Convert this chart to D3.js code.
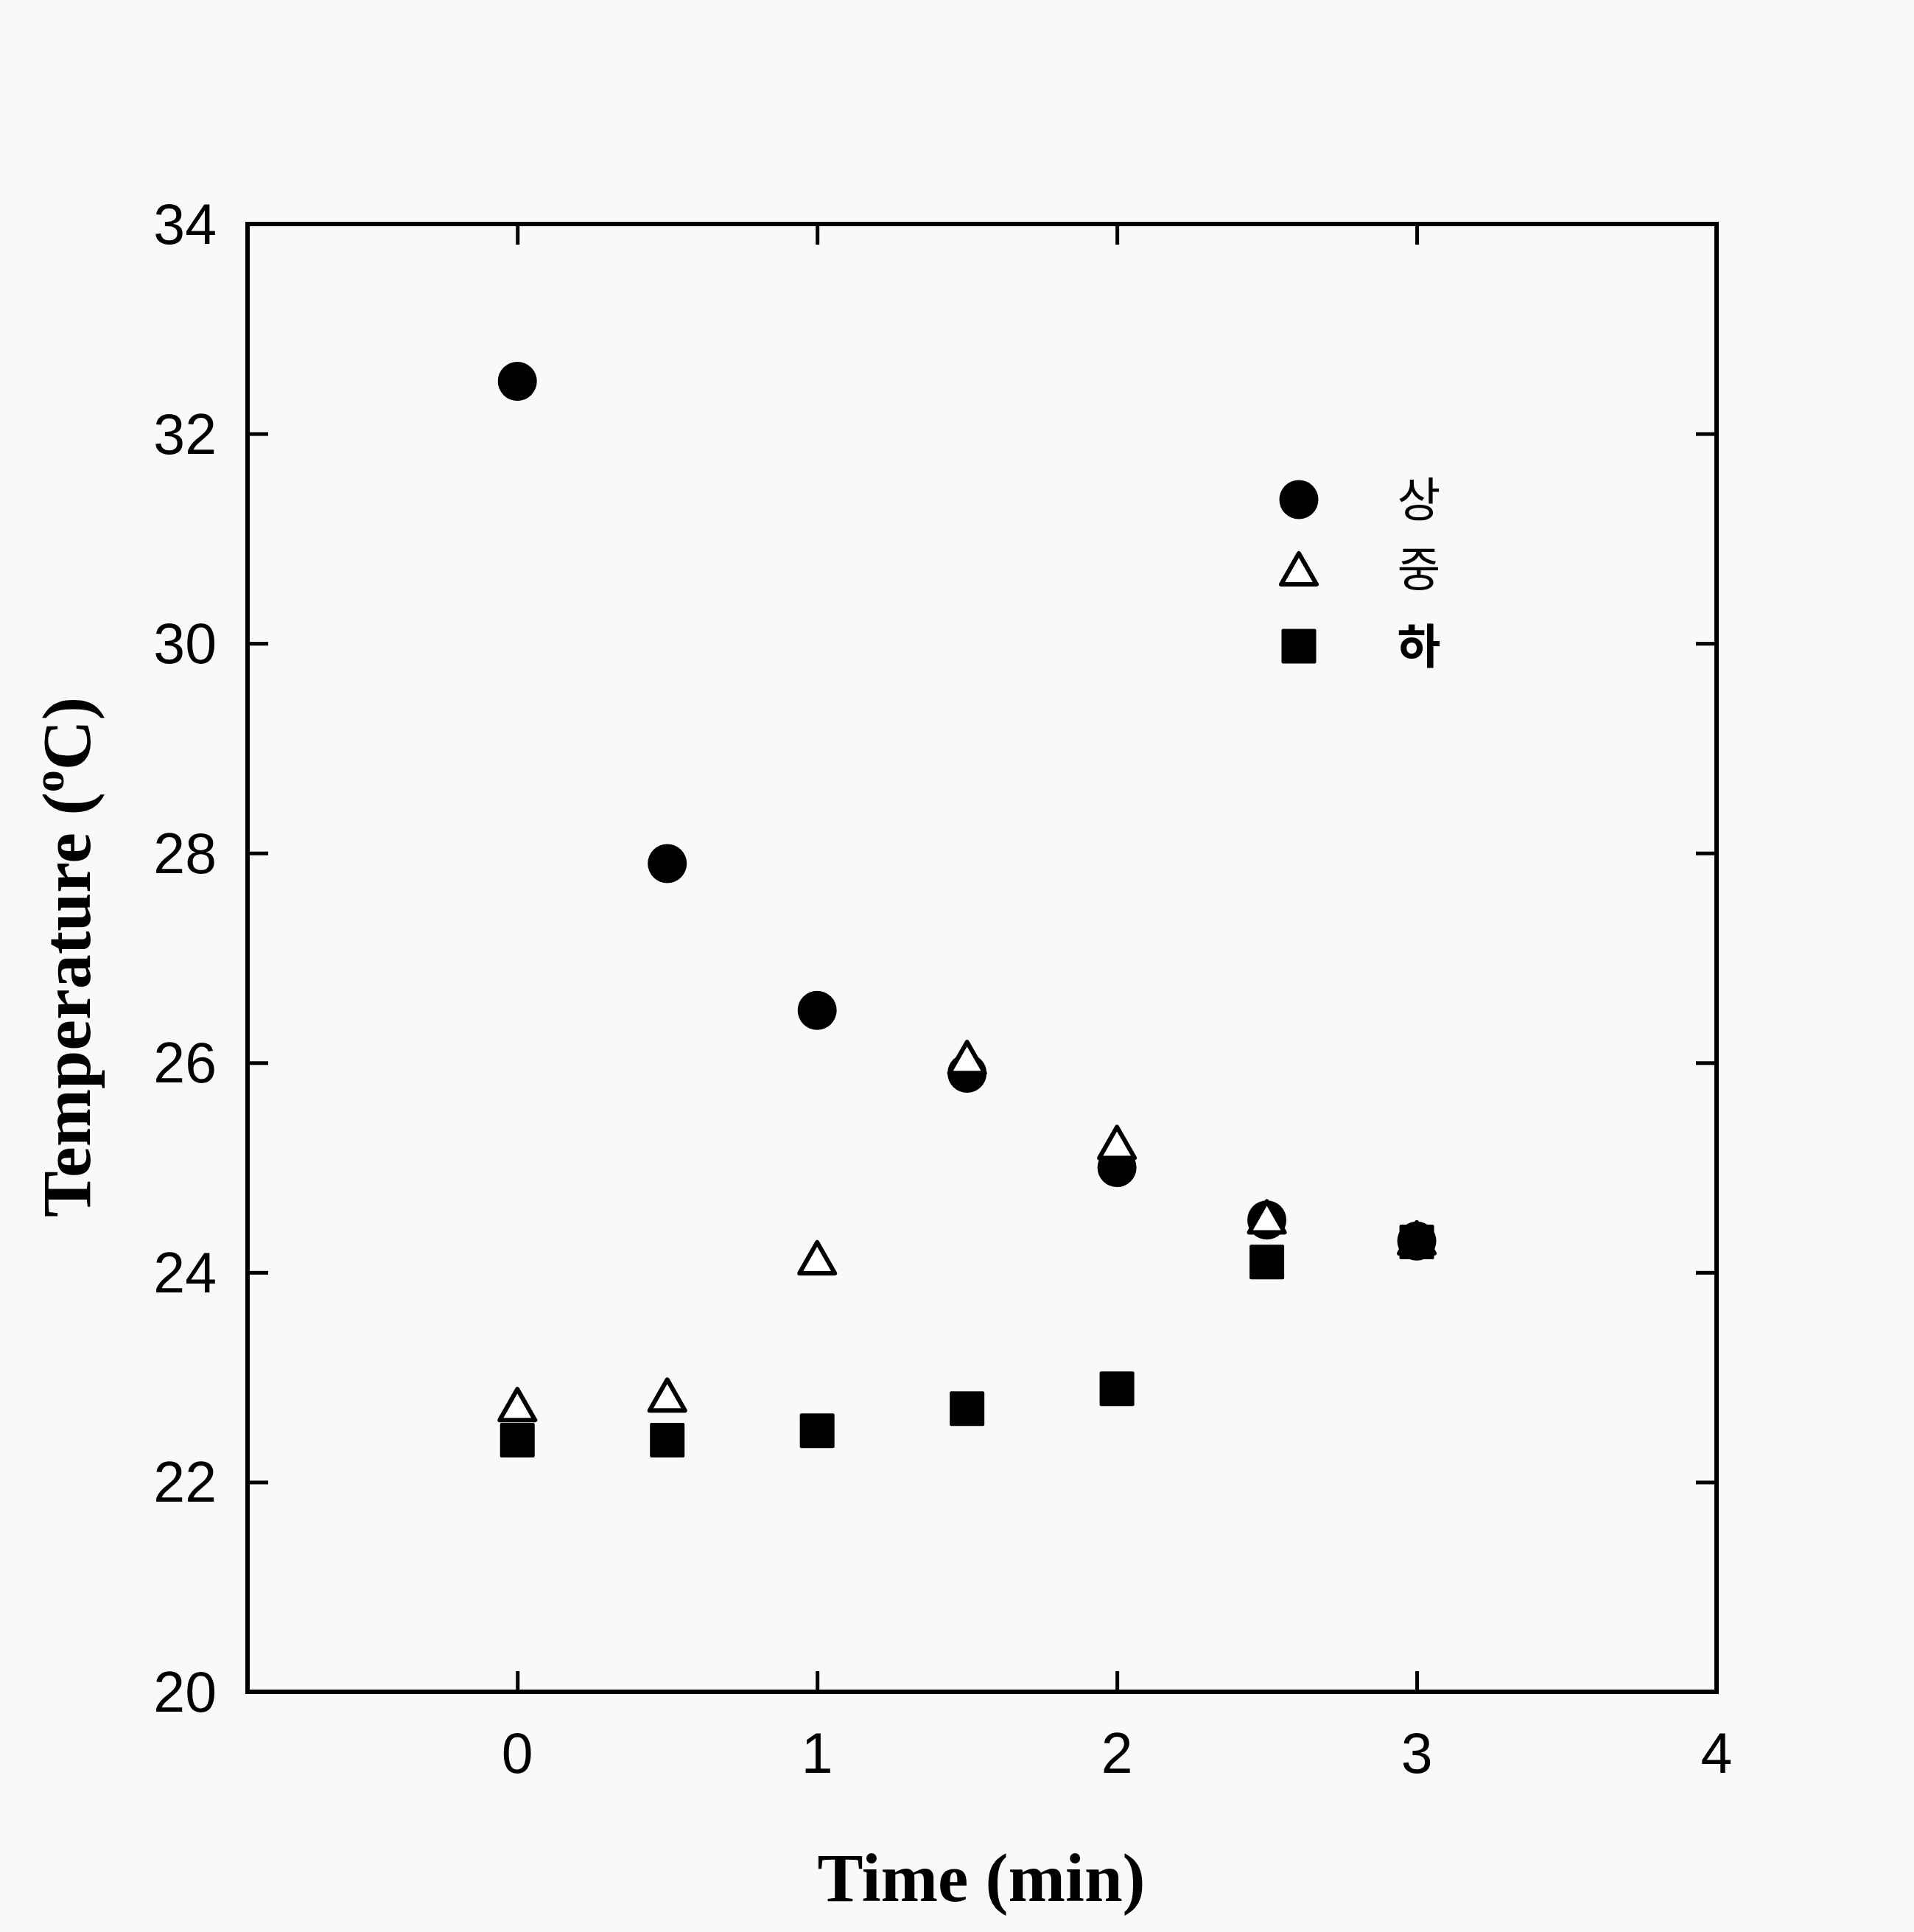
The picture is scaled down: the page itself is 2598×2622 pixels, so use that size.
<!DOCTYPE html>
<html>
<head>
<meta charset="utf-8">
<script src="https://cdn.jsdelivr.net/npm/d3@7/dist/d3.min.js"></script>
<style>
  html, body { margin: 0; padding: 0; background: #f9f9f9; }
  svg { display: block; }
</style>
</head>
<body>
<script>
// ---- data ----
const times = [0, 0.5, 1, 1.5, 2, 2.5, 3];
const sangValues = [32.5, 27.9, 26.5, 25.9, 25.0, 24.5, 24.3];   // 상 (filled circle)
const jungValues = [22.74, 22.83, 24.14, 26.05, 25.24, 24.53, 24.33]; // 중 (open triangle)
const haValues = [22.4, 22.4, 22.49, 22.7, 22.89, 24.1, 24.29];  // 하 (filled square)
const seriesNames = ["상", "중", "하"];
const xTicks = [0, 1, 2, 3, 4];
const yTicks = [20, 22, 24, 26, 28, 30, 32, 34];

(function () {
const W = 2598, H = 2622;
const pL = 336, pR = 2330, pT = 304, pB = 2296;

const svg = d3.select("body").append("svg")
  .attr("width", W).attr("height", H)
  .style("background", "#f9f9f9");

const x = d3.scaleLinear().domain([-0.9, 4]).range([pL, pR]);
const y = d3.scaleLinear().domain([20, 34]).range([pB, pT]);

const tickLen = 28;
const axisFont = "'Liberation Sans', Arial, sans-serif";

// axes with inward ticks
const gB = svg.append("g").attr("transform", `translate(0,${pB})`)
  .call(d3.axisBottom(x).tickValues(xTicks.slice(0, 4)).tickSize(-tickLen).tickFormat(""));
const gT = svg.append("g").attr("transform", `translate(0,${pT})`)
  .call(d3.axisTop(x).tickValues(xTicks.slice(0, 4)).tickSize(-tickLen).tickFormat(""));
const gL = svg.append("g").attr("transform", `translate(${pL},0)`)
  .call(d3.axisLeft(y).tickValues(yTicks.slice(1, -1)).tickSize(-tickLen).tickFormat(""));
const gR = svg.append("g").attr("transform", `translate(${pR},0)`)
  .call(d3.axisRight(y).tickValues(yTicks.slice(1, -1)).tickSize(-tickLen).tickFormat(""));
[gB, gT, gL, gR].forEach(g => {
  g.select(".domain").remove();
  g.selectAll(".tick line").attr("stroke", "#000").attr("stroke-width", 5);
});

// frame
svg.append("rect")
  .attr("x", pL).attr("y", pT)
  .attr("width", pR - pL).attr("height", pB - pT)
  .attr("fill", "none").attr("stroke", "#000").attr("stroke-width", 6);

// tick labels
svg.append("g").selectAll("text").data(xTicks).join("text")
  .attr("x", d => x(d)).attr("y", pB + 110)
  .attr("text-anchor", "middle")
  .attr("font-family", axisFont).attr("font-size", 77)
  .attr("fill", "#000")
  .text(d => d);

svg.append("g").selectAll("text").data(yTicks).join("text")
  .attr("x", pL - 42).attr("y", d => y(d) + 27)
  .attr("text-anchor", "end")
  .attr("font-family", axisFont).attr("font-size", 77)
  .attr("fill", "#000")
  .text(d => d);

// axis titles
const serif = "'Liberation Serif', 'Times New Roman', serif";
svg.append("text")
  .attr("x", 1332).attr("y", 2580)
  .attr("text-anchor", "middle")
  .attr("font-family", serif).attr("font-weight", "bold").attr("font-size", 93)
  .attr("fill", "#000")
  .text("Time (min)");

const yt = svg.append("text")
  .attr("transform", `translate(122,1299) rotate(-90)`)
  .attr("text-anchor", "middle")
  .attr("font-family", serif).attr("font-weight", "bold").attr("font-size", 94)
  .attr("fill", "#000");
yt.append("tspan").text("Temperature (");
yt.append("tspan").attr("font-size", 60).attr("dy", -36).text("o");
yt.append("tspan").attr("dy", 36).text("C)");

// markers
const circR = 26.5;
const triW = 48, triH = 42;
const sq = 47;
const triPath = (cx, cy) => `M${cx},${cy - triH / 2}L${cx + triW / 2},${cy + triH / 2}L${cx - triW / 2},${cy + triH / 2}Z`;

const sang = times.map((t, i) => ({ t, v: sangValues[i] }));
const jung = times.map((t, i) => ({ t, v: jungValues[i] }));
const ha = times.map((t, i) => ({ t, v: haValues[i] }));

svg.append("g").selectAll("circle").data(sang).join("circle")
  .attr("cx", d => x(d.t)).attr("cy", d => y(d.v)).attr("r", circR)
  .attr("fill", "#000");

svg.append("g").selectAll("path").data(jung).join("path")
  .attr("d", d => triPath(x(d.t), y(d.v)))
  .attr("fill", "#fff").attr("stroke", "#000").attr("stroke-width", 6)
  .attr("stroke-linejoin", "round");

svg.append("g").selectAll("rect").data(ha).join("rect")
  .attr("x", d => x(d.t) - sq / 2).attr("y", d => y(d.v) - sq / 2)
  .attr("width", sq).attr("height", sq).attr("rx", 2)
  .attr("fill", "#000");

// legend
const legX = 1763, legLabelX = 1926;
const legY = [678, 772, 877];
const lg = svg.append("g");
lg.append("circle").attr("cx", legX).attr("cy", legY[0]).attr("r", circR).attr("fill", "#000");
lg.append("path").attr("d", triPath(legX, legY[1]))
  .attr("fill", "#fff").attr("stroke", "#000").attr("stroke-width", 6).attr("stroke-linejoin", "round");
lg.append("rect").attr("x", legX - sq / 2).attr("y", legY[2] - sq / 2)
  .attr("width", sq).attr("height", sq).attr("rx", 2).attr("fill", "#000");
lg.selectAll("text").data(seriesNames).join("text")
  .attr("x", legLabelX).attr("y", (d, i) => legY[i] + 23)
  .attr("text-anchor", "middle")
  .attr("font-family", "'Noto Sans CJK KR', sans-serif")
  .attr("font-size", 64)
  .attr("font-weight", (d, i) => i === 2 ? "bold" : "normal")
  .attr("fill", "#000")
  .text(d => d);
})();
</script>
</body>
</html>
